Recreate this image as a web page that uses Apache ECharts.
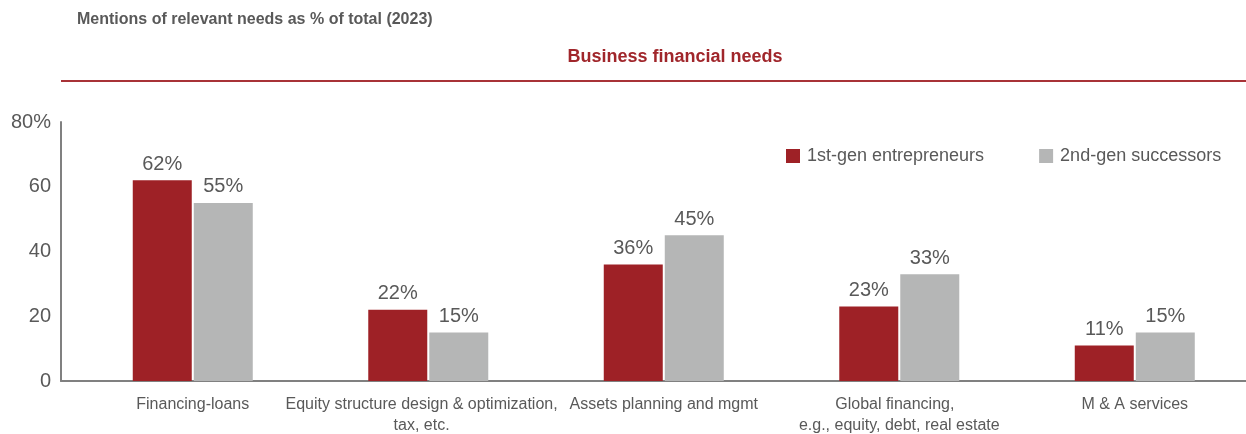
<!DOCTYPE html>
<html>
<head>
<meta charset="utf-8">
<script src="https://cdn.jsdelivr.net/npm/echarts@6/dist/echarts.min.js"></script>
<style>
  html, body { margin: 0; padding: 0; background: #fff; }
  #chart { width: 1246px; height: 434px; }
</style>
</head>
<body>
<div id="chart"></div>
<script>
// Categories and values (% of mentions, 2023)
const categories = [
  'Financing-loans',
  'Equity structure design & optimization,   \ntax, etc.   ',
  'Assets planning and mgmt',
  'Global financing,  \ne.g., equity, debt, real estate',
  'M & A services'
];
const firstGen = [62, 22, 36, 23, 11];
const secondGen = [55, 15, 45, 33, 15];
const seriesNames = ['1st-gen entrepreneurs', '2nd-gen successors'];
const yTicks = { min: 0, max: 80, interval: 20 };

const RED = '#9e2126';
const GRAY = '#b5b6b6';
const TEXT = '#595959';
const FONT = '"Liberation Sans", Arial, sans-serif';

// category slots are placed at integer positions on a numeric x-axis,
// with a little lead-in space before the first slot
const slotIdx = categories.map((_, i) => i);
const toPairs = vals => vals.map((v, i) => [slotIdx[i], v]);

const chart = echarts.init(document.getElementById('chart'), null, { renderer: 'canvas' });

const labelStyle = {
  show: true,
  position: 'top',
  distance: 6,
  formatter: p => p.value[1] + '%',
  color: TEXT,
  fontSize: 20,
  fontFamily: FONT
};

chart.setOption({
  animation: false,
  backgroundColor: '#fff',
  textStyle: { fontFamily: FONT },
  title: [
    {
      text: 'Mentions of relevant needs as % of total (2023)',
      left: 72, top: 7,
      textStyle: { color: TEXT, fontSize: 16, fontWeight: 'bold', fontFamily: FONT }
    },
    {
      text: 'Business financial needs',
      left: 670, top: 43, textAlign: 'center',
      textStyle: { color: '#a0262b', fontSize: 18, fontWeight: 'bold', fontFamily: FONT }
    }
  ],
  legend: {
    left: 781, top: 142,
    itemWidth: 14, itemHeight: 14, itemGap: 55,
    icon: 'rect',
    textStyle: { color: TEXT, fontSize: 18, fontFamily: FONT, padding: [0, 0, 0, 2] },
    data: seriesNames
  },
  grid: {
    left: 61, top: 122, right: 0, height: 259,
    containLabel: false,
    outerBoundsMode: 'none'
  },
  xAxis: {
    type: 'value',
    min: -0.5595,
    max: 4.4723,
    axisLine: { show: true, onZero: false, lineStyle: { color: '#808080', width: 2 } },
    axisTick: { show: false },
    splitLine: { show: false },
    axisLabel: {
      color: TEXT, fontSize: 16, fontFamily: FONT, margin: 13, lineHeight: 21,
      customValues: slotIdx,
      showMinLabel: true, showMaxLabel: true,
      formatter: v => categories[Math.round(v)] || ''
    }
  },
  yAxis: {
    type: 'value',
    min: yTicks.min, max: yTicks.max, interval: yTicks.interval,
    axisLine: { show: true, onZero: false, lineStyle: { color: '#808080', width: 2 } },
    axisTick: { show: false },
    splitLine: { show: false },
    axisLabel: {
      color: TEXT, fontSize: 20, fontFamily: FONT, margin: 10,
      formatter: v => v === yTicks.max ? v + '%' : String(v)
    }
  },
  graphic: [
    // red rule under the subtitle
    { type: 'line', shape: { x1: 61, y1: 81, x2: 1246, y2: 81 }, style: { stroke: '#a83237', lineWidth: 2 } }
  ],
  series: [
    {
      name: seriesNames[0], type: 'bar', data: toPairs(firstGen),
      barWidth: 59, barGap: '3.4%',
      itemStyle: { color: RED },
      label: labelStyle
    },
    {
      name: seriesNames[1], type: 'bar', data: toPairs(secondGen),
      barWidth: 59,
      itemStyle: { color: GRAY },
      label: labelStyle
    }
  ]
});
</script>
</body>
</html>
